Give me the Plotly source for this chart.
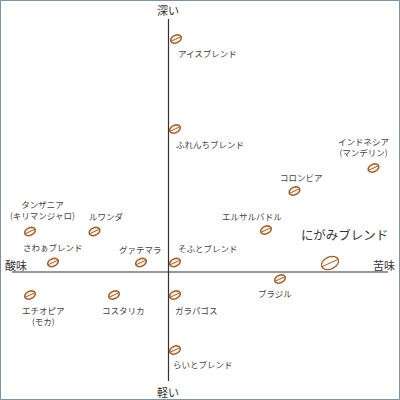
import numpy as np
import plotly.graph_objects as go

# taste map: x = sour(-) to bitter(+), y = light(-) to deep(+)
names = ["アイスブレンド", "ふれんちブレンド", "インドネシア<br>(マンデリン)", "コロンビア",
         "エルサルバドル", "タンザニア<br>(キリマンジャロ)", "ルワンダ", "さわぁブレンド",
         "グァテマラ", "そふとブレンド", "ブラジル", "エチオピア<br>(モカ)",
         "コスタリカ", "ガラパゴス", "らいとブレンド"]
sourness_bitter = [7, 6, 204.5, 125.5, 97, -139, -74.5, -116, -28, 6, 111, -139, -55, 6, 6]
depth = [233, 143, 104, 81, 42, 40.5, 40.5, 9.5, 9.5, 9.5, -7, -23, -23, -23, -78]
label_dx = [31, 35, -10, 7, -14, 12, 12, 0, -1, 33, -5, 13, 9, 21, 28]
label_dy = [-15, -16, 21, 13, 13, 21, 15, 15, 13, 14, -15, -21, -16, -16, -15]

blend_name = "にがみブレンド"
blend_x = [161]
blend_y = [9]

axis_x = [-157, 219]
axis_y = [-109, 253]

BROWN = "#a2622e"
TEXT = "#444444"
FONT = "Noto Sans CJK JP"


def bean_path(cx, cy, rx, ry, angle=25):
    t = np.radians(np.arange(0, 360, 20))
    a = np.radians(angle)
    xs = cx + rx * np.cos(t) * np.cos(a) - ry * np.sin(t) * np.sin(a)
    ys = cy + rx * np.cos(t) * np.sin(a) + ry * np.sin(t) * np.cos(a)
    return "M" + " L".join(f"{x:.2f},{y:.2f}" for x, y in zip(xs, ys)) + " Z"


fig = go.Figure()

fig.add_trace(go.Scatter(x=axis_x, y=[0, 0], mode="lines", line=dict(color="#333333", width=1.2), hoverinfo="skip"))
fig.add_trace(go.Scatter(x=[-0.5, -0.5], y=axis_y, mode="lines", line=dict(color="#333333", width=1.2), hoverinfo="skip"))

for x, y in zip(sourness_bitter, depth):
    fig.add_shape(type="path", path=bean_path(x, y, 5.6, 3.8), xref="x", yref="y", layer="below",
                  fillcolor="#fbf1e4", line=dict(color=BROWN, width=1.5))
fig.add_shape(type="path", path=bean_path(blend_x[0], blend_y[0], 9, 6), xref="x", yref="y", layer="below",
              fillcolor="#fdf8f1", line=dict(color=BROWN, width=1.3))

# the slash across each bean
fig.add_trace(go.Scatter(x=sourness_bitter, y=depth, mode="markers", hovertext=names, hoverinfo="text",
                         marker=dict(symbol="line-ne", size=8, angle=20, line=dict(color=BROWN, width=1))))
fig.add_trace(go.Scatter(x=blend_x, y=blend_y, mode="markers", hovertext=[blend_name], hoverinfo="text",
                         marker=dict(symbol="line-ne", size=13, angle=20, line=dict(color=BROWN, width=1))))

for name, x, y, dx, dy in zip(names, sourness_bitter, depth, label_dx, label_dy):
    fig.add_annotation(x=x, y=y, text=name, showarrow=False, xshift=dx, yshift=dy + 1,
                       font=dict(family=FONT, size=8.5, color=TEXT))
fig.add_annotation(x=blend_x[0], y=blend_y[0], text=blend_name, showarrow=False, xshift=14, yshift=29,
                   font=dict(family=FONT, size=12.5, color="#333333"))

for text, x, y in [("深い", -1, 262), ("軽い", -1, -120), ("酸味", -153, 7), ("苦味", 215, 7)]:
    fig.add_annotation(x=x, y=y, text=text, showarrow=False, font=dict(family=FONT, size=11, color="#333333"))

fig.add_shape(type="rect", xref="paper", yref="paper", x0=0, x1=1, y0=0, y1=1,
              line=dict(color="#7d93a3", width=2))

fig.update_xaxes(range=[-169, 231], visible=False, fixedrange=True)
fig.update_yaxes(range=[-128, 272], visible=False, fixedrange=True)
fig.update_layout(width=400, height=400, margin=dict(l=0, r=0, t=0, b=0), showlegend=False,
                  paper_bgcolor="white", plot_bgcolor="white")

fig.write_html("out.html", config=dict(displayModeBar=False), post_script="document.body.style.margin='0';")
